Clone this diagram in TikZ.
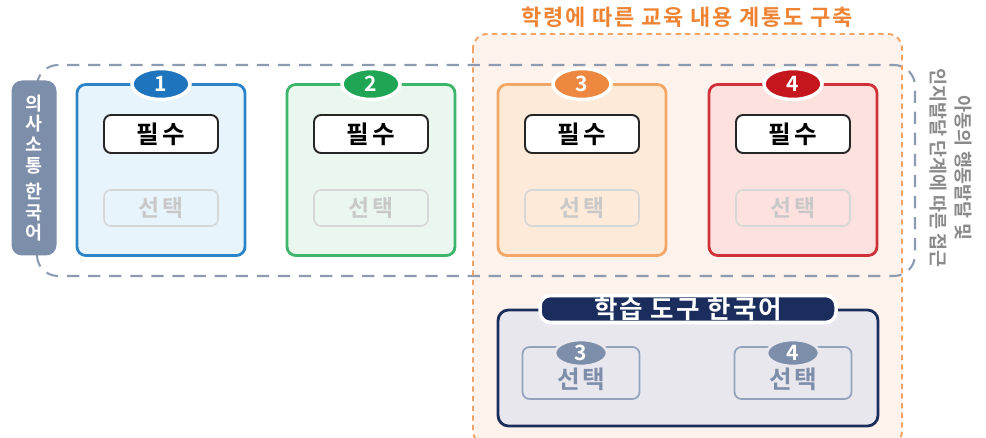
\documentclass[tikz,border=0pt]{standalone}
\usepackage{fontspec}
\setmainfont{Noto Sans CJK KR}[BoldFont={Noto Sans CJK KR Bold}]
\usetikzlibrary{shapes.geometric}
\definecolor{grayline}{HTML}{8C9BB2}
\definecolor{orline}{HTML}{F2A468}
\definecolor{orfill}{HTML}{FDF2EC}
\definecolor{ortext}{HTML}{EE8433}
\definecolor{bluebd}{HTML}{2C84C8}\definecolor{bluefl}{HTML}{E8F4FC}\definecolor{bluebg}{HTML}{1F74BE}
\definecolor{greenbd}{HTML}{3DB56A}\definecolor{greenfl}{HTML}{EAF7EF}\definecolor{greenbg}{HTML}{1FA655}
\definecolor{orbd}{HTML}{F2A766}\definecolor{orcfl}{HTML}{FDEAD8}\definecolor{orbg}{HTML}{EE8840}
\definecolor{redbd}{HTML}{D03038}\definecolor{redfl}{HTML}{FCE1DF}\definecolor{redbg}{HTML}{C5161D}
\definecolor{navy}{HTML}{1B2D5C}\definecolor{toolfl}{HTML}{E9E7EE}
\definecolor{slate}{HTML}{7D8EAA}\definecolor{slatebd}{HTML}{93A3BD}
\definecolor{optbd}{HTML}{D6D6D6}\definecolor{opttx}{HTML}{C8C8C8}
\definecolor{sidetx}{HTML}{8A8A8A}
\tikzset{
  card/.style={draw=#1, line width=1.6pt, rounded corners=5pt, minimum width=168*0.02cm, minimum height=171*0.02cm},
  badge/.style={ellipse, fill=#1, draw=white, line width=2pt, minimum width=58*0.02cm, minimum height=31*0.02cm, inner sep=0pt, text=white, font=\bfseries\fontsize{12}{12}\selectfont},
  reqbox/.style={draw=black!85, line width=1.1pt, fill=white!0, rounded corners=4pt, minimum width=114*0.02cm, minimum height=38*0.02cm, font=\bfseries\fontsize{14}{14}\selectfont\addfontfeature{LetterSpace=12}},
  optbox/.style={draw=optbd, line width=0.9pt, rounded corners=4pt, minimum width=114*0.02cm, minimum height=36*0.02cm, text=opttx, font=\bfseries\fontsize{13}{13}\selectfont\addfontfeature{LetterSpace=10}},
  subbox/.style={draw=slatebd, line width=1pt, rounded corners=4pt, minimum width=117*0.02cm, minimum height=52*0.02cm, text=slate, font=\bfseries\fontsize{14}{14}\selectfont\addfontfeature{LetterSpace=10}, text depth=0pt},
  subbadge/.style={ellipse, fill=slate, draw=toolfl, line width=1.5pt, minimum width=52*0.02cm, minimum height=26*0.02cm, inner sep=0pt, text=white, font=\bfseries\fontsize{12}{12}\selectfont},
}
\begin{document}
\begin{tikzpicture}[x=0.02cm,y=-0.02cm]
\useasboundingbox (0,0) rectangle (986,438);
% orange region
\fill[orfill, rounded corners=8pt] (473,34) rectangle (902,445);
\draw[grayline, line width=1.2pt, dash pattern=on 7pt off 5pt, rounded corners=12pt] (37,65) rectangle (915,276);
\draw[orline, line width=1.1pt, dash pattern=on 3pt off 2.5pt, rounded corners=8pt] (473,34) rectangle (902,445);
\node[text=ortext, font=\bfseries\fontsize{12.5}{12.5}\selectfont\addfontfeature{LetterSpace=8}] (title) at (687,17) {학령에 따른 교육 내용 계통도 구축};
% left label
\node[fill=slate, rounded corners=6pt, minimum width=45*0.02cm, minimum height=175*0.02cm, text=white, font=\bfseries\fontsize{10.5}{11.8}\selectfont, align=center, inner sep=0pt] (lab) at (34,168) {의\\사\\소\\통\\[3pt]한\\국\\어};
% cards
\foreach \i/\x/\bd/\fl/\bg in {1/161/bluebd/bluefl/bluebg, 2/371/greenbd/greenfl/greenbg, 3/582/orbd/orcfl/orbg, 4/793/redbd/redfl/redbg}{
  \node[card=\bd, fill=\fl] (c\i) at (\x,170) {};
  \node[badge=\bg] (b\i) at (\x,84) {\i};
  \node[reqbox] (r\i) at (\x,134) {필수};
  \node[optbox] (o\i) at (\x,208) {선택};
}
% right side text
\node[rotate=-90, text=sidetx, font=\bfseries\fontsize{10.5}{14}\selectfont, align=center] (side) at (951,168) {아동의 행동발달 및\\인지발달 단계에 따른 접근};
% tool box
\node[draw=navy, line width=1.6pt, fill=toolfl, rounded corners=6pt, minimum width=380*0.02cm, minimum height=116*0.02cm] (tool) at (688,368) {};
\node[fill=navy, draw=white, line width=2pt, rounded corners=6pt, minimum width=296*0.02cm, minimum height=27*0.02cm, inner sep=0pt, text=white, font=\bfseries\fontsize{14.5}{14.5}\selectfont\addfontfeature{LetterSpace=8}] (tooltitle) at (688,309) {학습 도구 한국어};
\node[subbox] (s3) at (581,373) {\raisebox{-6pt}{선택}};
\node[subbadge] (sb3) at (581,353) {3};
\node[subbox] (s4) at (793,373) {\raisebox{-6pt}{선택}};
\node[subbadge] (sb4) at (793,353) {4};
\end{tikzpicture}
\end{document}
